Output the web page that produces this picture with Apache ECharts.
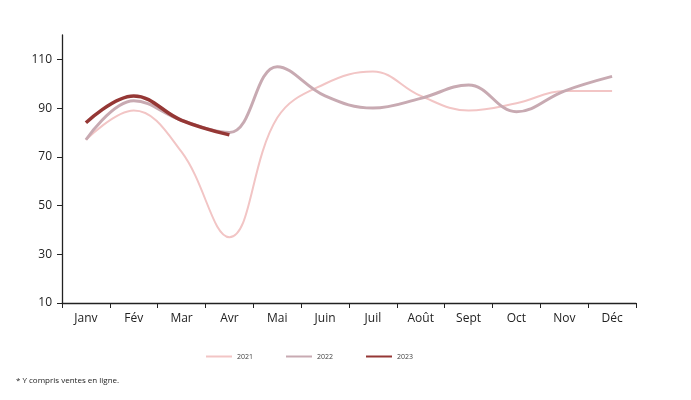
<!DOCTYPE html>
<html><head><meta charset="utf-8">
<script src="https://cdn.jsdelivr.net/npm/echarts@6/dist/echarts.min.js"></script>
<style>html,body{margin:0;padding:0;background:#fff}#c{width:691px;height:400px}</style>
</head><body><div id="c"></div>
<script>
const categories = ['Janv','Fév','Mar','Avr','Mai','Juin','Juil','Août','Sept','Oct','Nov','Déc'];
const s2021 = [77, 89, 72, 37, 86, 100, 105, 95, 89, 92, 97, 97];
const s2022 = [77, 93, 85, 80, 107, 95, 90, 94, 99.5, 88.5, 97, 103];
const s2023 = [84, 95, 85, 79];
const yTicks = [10, 30, 50, 70, 90, 110];
const footnote = '* Y compris ventes en ligne.';

const chart = echarts.init(document.getElementById('c'), null, {renderer:'canvas'});
const font = 'Open Sans, Liberation Sans, sans-serif';
chart.setOption({
  animation:false,
  grid:{left:62,right:55,top:35,bottom:97},
  legend:{
    top:348,left:201,itemWidth:26,itemHeight:2,itemGap:33,
    icon:'rect',
    textStyle:{fontSize:7,color:'#404040',fontFamily:font},
    data:['2021','2022','2023']
  },
  graphic:[{type:'text',left:16,top:377,style:{text:footnote,fontSize:8,fill:'#222',fontFamily:font}}],
  xAxis:{
    type:'category',data:categories,boundaryGap:true,
    axisLine:{lineStyle:{color:'#222',width:1.3}},
    axisTick:{show:true,inside:false,length:5,lineStyle:{color:'#222'}},
    axisLabel:{color:'#222',fontSize:12,fontFamily:font,margin:10}
  },
  yAxis:{
    type:'value',min:10,max:120,interval:20,
    splitLine:{show:false},
    axisLine:{show:true,lineStyle:{color:'#222',width:1.3}},
    axisTick:{show:true,length:5,lineStyle:{color:'#222'}},
    axisLabel:{color:'#222',fontSize:12,fontFamily:font,margin:10,
      showMaxLabel:false,
      formatter:v=>yTicks.includes(v)?String(v):''}
  },
  series:[
    {name:'2021',type:'line',data:s2021,smooth:0.4,symbol:'none',color:'#f2c5c5',lineStyle:{width:2,color:'#f2c5c5'}},
    {name:'2022',type:'line',data:s2022,smooth:0.4,symbol:'none',color:'#c8aab2',lineStyle:{width:3,color:'#c8aab2'}},
    {name:'2023',type:'line',data:s2023,smooth:0.4,symbol:'none',color:'#953735',lineStyle:{width:3.5,color:'#953735'}}
  ]
});
</script></body></html>
